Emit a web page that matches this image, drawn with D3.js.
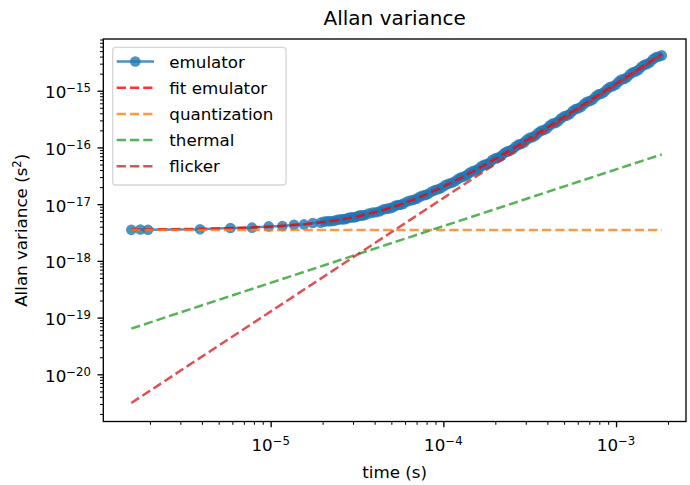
<!DOCTYPE html>
<html><head><meta charset="utf-8">
<script src="https://cdn.jsdelivr.net/npm/d3@7"></script>
<style>
body{margin:0;background:#fff;}
text{font-family:"DejaVu Sans",sans-serif;fill:#000;}
</style></head><body>
<svg id="chart" width="690" height="485"></svg>
<script>
// ---- data ----
const tau = [1.56e-6,1.76e-6,1.95e-6,3.9e-6,5.85e-6,7.8e-6,9.75e-6,11.7e-6,13.65e-6,15.6e-6,17.55e-6,19.5e-6,
 20.5e-6,21.5e-6,22.4e-6,23.4e-6,24.4e-6,25.4e-6,26.3e-6,27.3e-6,28.3e-6,29.3e-6,30.2e-6,31.2e-6,32.2e-6,33.2e-6,34.1e-6,35.1e-6,
 37e-6,39e-6,40.9e-6,42.9e-6,44.8e-6,46.8e-6,48.7e-6,50.7e-6,52.6e-6,54.6e-6,56.5e-6,58.5e-6,61.4e-6,64.4e-6,67.2e-6,70.2e-6,
 73e-6,76e-6,78.9e-6,81.9e-6,85.7e-6,89.7e-6,93.5e-6,97.5e-6,102e-6,107e-6,112e-6,117e-6,122e-6,127e-6,132e-6,137e-6,
 142e-6,148e-6,154e-6,160e-6,166e-6,172e-6,178e-6,185e-6,192e-6,200e-6,208e-6,216e-6,224e-6,233e-6,242e-6,252e-6,
 262e-6,272e-6,282e-6,293e-6,304e-6,316e-6,328e-6,341e-6,354e-6,368e-6,382e-6,397e-6,413e-6,429e-6,446e-6,463e-6,
 481e-6,500e-6,520e-6,540e-6,561e-6,583e-6,606e-6,629e-6,654e-6,679e-6,706e-6,733e-6,762e-6,791e-6,822e-6,854e-6,
 888e-6,922e-6,958e-6,995e-6,1034e-6,1074e-6,1116e-6,1159e-6,1204e-6,1251e-6,1300e-6,1351e-6,1403e-6,1458e-6,
 1515e-6,1574e-6,1636e-6,1700e-6,1768e-6,1840e-6];
const emulator = [3.52e-18,3.58e-18,3.54e-18,3.62e-18,3.80e-18,3.85e-18,4.05e-18,4.10e-18,4.33e-18,4.40e-18,4.66e-18,4.72e-18,
 4.93e-18,5.02e-18,4.99e-18,5.10e-18,5.31e-18,5.42e-18,5.39e-18,5.50e-18,5.74e-18,5.86e-18,5.83e-18,5.95e-18,6.21e-18,6.33e-18,6.30e-18,6.44e-18,
 6.85e-18,7.10e-18,7.22e-18,7.52e-18,8.02e-18,8.30e-18,8.41e-18,8.75e-18,9.33e-18,9.65e-18,9.78e-18,10.1e-18,11.0e-18,11.6e-18,11.9e-18,12.5e-18,
 13.5e-18,14.2e-18,14.5e-18,15.2e-18,16.7e-18,17.7e-18,18.3e-18,19.4e-18,21.4e-18,22.8e-18,23.8e-18,25.4e-18,28.1e-18,29.8e-18,30.8e-18,32.6e-18,
 35.8e-18,38.2e-18,39.6e-18,42.0e-18,46.5e-18,49.3e-18,50.6e-18,53.8e-18,59.8e-18,64.2e-18,66.3e-18,70.6e-18,78.6e-18,84.3e-18,87.0e-18,93.0e-18,
 104e-18,112e-18,115e-18,122e-18,137e-18,148e-18,152e-18,162e-18,182e-18,197e-18,203e-18,216e-18,244e-18,264e-18,271e-18,290e-18,
 326e-18,353e-18,364e-18,389e-18,438e-18,476e-18,490e-18,522e-18,590e-18,640e-18,658e-18,702e-18,795e-18,862e-18,886e-18,948e-18,
 1072e-18,1160e-18,1196e-18,1280e-18,1446e-18,1570e-18,1614e-18,1730e-18,1950e-18,2110e-18,2180e-18,2340e-18,2640e-18,2860e-18,
 2950e-18,3170e-18,3580e-18,3880e-18,4010e-18,4200e-18];
const fitEmulator = [3.557e-18,3.566e-18,3.575e-18,3.669e-18,3.774e-18,3.888e-18,4.012e-18,4.145e-18,4.288e-18,4.441e-18,4.604e-18,4.777e-18,
 4.869e-18,4.964e-18,5.050e-18,5.150e-18,5.252e-18,5.357e-18,5.453e-18,5.563e-18,5.675e-18,5.790e-18,5.895e-18,6.015e-18,6.137e-18,6.262e-18,6.376e-18,6.506e-18,
 6.759e-18,7.036e-18,7.308e-18,7.605e-18,7.896e-18,8.213e-18,8.523e-18,8.859e-18,9.188e-18,9.545e-18,9.893e-18,10.27e-18,10.83e-18,11.44e-18,12.03e-18,12.68e-18,
 13.30e-18,14.00e-18,14.69e-18,15.43e-18,16.41e-18,17.47e-18,18.51e-18,19.66e-18,20.99e-18,22.53e-18,24.14e-18,25.81e-18,27.54e-18,29.35e-18,31.20e-18,33.13e-18,
 35.12e-18,37.60e-18,40.16e-18,42.82e-18,45.57e-18,48.41e-18,51.35e-18,54.89e-18,58.55e-18,62.89e-18,67.40e-18,72.07e-18,76.90e-18,82.53e-18,88.37e-18,95.11e-18,
 102.1e-18,109.3e-18,116.9e-18,125.4e-18,134.3e-18,144.3e-18,154.6e-18,166.3e-18,178.4e-18,191.9e-18,206.0e-18,221.5e-18,238.7e-18,256.7e-18,276.4e-18,296.9e-18,
 319.3e-18,344.0e-18,370.9e-18,398.8e-18,429.3e-18,462.5e-18,498.4e-18,535.7e-18,577.8e-18,621.4e-18,670.4e-18,721.2e-18,777.9e-18,836.8e-18,902.1e-18,972.1e-18,
 1049e-18,1129e-18,1218e-18,1311e-18,1415e-18,1524e-18,1643e-18,1770e-18,1908e-18,2058e-18,2220e-18,2395e-18,2581e-18,2784e-18,
 3004e-18,3239e-18,3497e-18,3772e-18,4077e-18,4413e-18];
const modelTau = [1.56e-6, 1.84e-3];
const quantization = [3.49e-18, 3.49e-18];
const thermal = [6.40e-20, 7.54e-17];
const flicker = [3.12e-21, 4.33e-15];
const seriesNames = ["emulator","fit emulator","quantization","thermal","flicker"];
const xLimits = [1.074e-6, 2.541e-3];
const yLimits = [1.472e-21, 8.166e-15];
const xMajorTicks = [1e-5, 1e-4, 1e-3];
const xTickExponents = ["−5","−4","−3"];
const yMajorTicks = [1e-20,1e-19,1e-18,1e-17,1e-16,1e-15];
const yTickExponents = ["−20","−19","−18","−17","−16","−15"];

// ---- layout ----
const L=103.3, R=686, T=39, B=421.5;
const svg = d3.select("#chart");
const x = d3.scaleLog().domain(xLimits).range([L,R]);
const y = d3.scaleLog().domain(yLimits).range([B,T]);

svg.append("defs").append("clipPath").attr("id","clip")
  .append("rect").attr("x",L).attr("y",T).attr("width",R-L).attr("height",B-T);

const plot = svg.append("g").attr("clip-path","url(#clip)");
const line = d3.line().x(d=>x(d[0])).y(d=>y(d[1]));

const emu = d3.zip(tau, emulator);
plot.append("path").datum(emu).attr("d",line).attr("fill","none")
  .attr("stroke","#1f77b4").attr("stroke-width",2.5).attr("stroke-opacity",0.8);
plot.append("g").selectAll("circle").data(emu).join("circle")
  .attr("cx",d=>x(d[0])).attr("cy",d=>y(d[1])).attr("r",5.3)
  .attr("fill","#1f77b4").attr("fill-opacity",0.8);

const dash = "9.25,4";
const dashed = [
  {data:d3.zip(tau, fitEmulator), color:"#ff0000"},
  {data:d3.zip(modelTau, quantization), color:"#ff7f0e"},
  {data:d3.zip(modelTau, thermal), color:"#2ca02c"},
  {data:d3.zip(modelTau, flicker), color:"#d62728"}
];
dashed.forEach(s=>{
  plot.append("path").datum(s.data).attr("d",line).attr("fill","none")
    .attr("stroke",s.color).attr("stroke-width",2.5).attr("stroke-opacity",0.8)
    .attr("stroke-dasharray",dash);
});

// ---- axes ----
const xMinor = x.ticks().filter(v=>!xMajorTicks.some(m=>Math.abs(m-v)/m<1e-6));
const yMinor = y.ticks().filter(v=>!yMajorTicks.some(m=>Math.abs(m-v)/m<1e-6));

function styleAxis(g, w){ g.select(".domain").remove(); g.selectAll("line").attr("stroke","#000").attr("stroke-width",w); g.selectAll("text").remove(); }
svg.append("g").attr("transform",`translate(0,${B})`)
  .call(d3.axisBottom(x).tickValues(xMinor).tickSize(3.3).tickFormat(""))
  .call(g=>styleAxis(g,1));
svg.append("g").attr("transform",`translate(0,${B})`)
  .call(d3.axisBottom(x).tickValues(xMajorTicks).tickSize(5.8).tickFormat(""))
  .call(g=>styleAxis(g,1.33));
svg.append("g").attr("transform",`translate(${L},0)`)
  .call(d3.axisLeft(y).tickValues(yMinor).tickSize(3.3).tickFormat(""))
  .call(g=>styleAxis(g,1));
svg.append("g").attr("transform",`translate(${L},0)`)
  .call(d3.axisLeft(y).tickValues(yMajorTicks).tickSize(5.8).tickFormat(""))
  .call(g=>styleAxis(g,1.33));

// tick labels
xMajorTicks.forEach((v,i)=>{
  const t = svg.append("text").attr("x",x(v)).attr("y",451).attr("text-anchor","middle").attr("font-size",16.7);
  t.append("tspan").text("10");
  t.append("tspan").attr("font-size",11.7).attr("dy",-6).text(xTickExponents[i]);
});
yMajorTicks.forEach((v,i)=>{
  const t = svg.append("text").attr("x",91).attr("y",y(v)+7.5).attr("text-anchor","end").attr("font-size",16.7);
  t.append("tspan").text("10");
  t.append("tspan").attr("font-size",11.7).attr("dy",-6).text(yTickExponents[i]);
});

// spines
svg.append("rect").attr("x",L).attr("y",T).attr("width",R-L).attr("height",B-T)
  .attr("fill","none").attr("stroke","#000").attr("stroke-width",1.33);

// labels
svg.append("text").attr("x",(L+R)/2).attr("y",25).attr("text-anchor","middle").attr("font-size",20).text("Allan variance");
svg.append("text").attr("x",(L+R)/2).attr("y",478).attr("text-anchor","middle").attr("font-size",16.7).text("time (s)");
const yl = svg.append("text").attr("transform",`translate(27,${(T+B)/2}) rotate(-90)`).attr("text-anchor","middle").attr("font-size",16.7);
yl.append("tspan").text("Allan variance (s");
yl.append("tspan").attr("font-size",11.7).attr("dy",-6).text("2");
yl.append("tspan").attr("dy",6).text(")");

// legend
const lg = svg.append("g");
lg.append("rect").attr("x",112.7).attr("y",47.3).attr("width",173.3).attr("height",137.7).attr("rx",3)
  .attr("fill","#fff").attr("fill-opacity",0.8).attr("stroke","#cccccc").attr("stroke-opacity",0.8).attr("stroke-width",1.33);
const legendColors = ["#1f77b4","#ff0000","#ff7f0e","#2ca02c","#d62728"];
seriesNames.forEach((name,i)=>{
  const cy = 61.5 + i*26.2;
  lg.append("line").attr("x1",116.7).attr("x2",154).attr("y1",cy).attr("y2",cy)
    .attr("stroke",legendColors[i]).attr("stroke-width",2.5).attr("stroke-opacity",0.8)
    .attr("stroke-dasharray", i===0 ? null : dash);
  if(i===0) lg.append("circle").attr("cx",135.3).attr("cy",cy).attr("r",5.3).attr("fill",legendColors[0]).attr("fill-opacity",0.8);
  lg.append("text").attr("x",169.3).attr("y",cy+6).attr("font-size",16.7).text(name);
});
</script>
</body></html>
